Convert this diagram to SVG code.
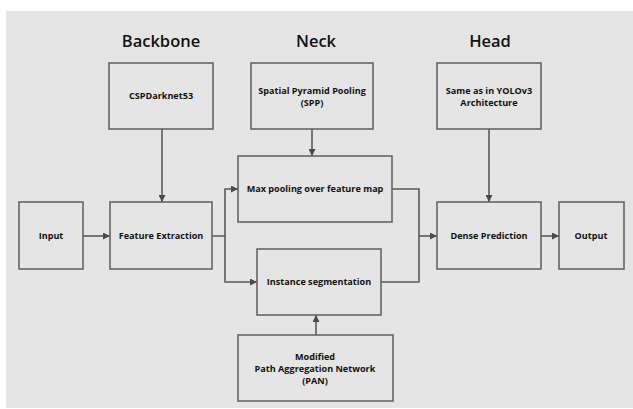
<svg xmlns="http://www.w3.org/2000/svg" width="633" height="409" viewBox="0 0 633 409">
<defs>
<style>
.bg{fill:#e5e5e5}
.box{fill:#e5e5e5;stroke:#666;stroke-width:1.6}
.lbl{font-family:"Open Sans","Noto Sans",sans-serif;font-weight:700;font-size:9.1px;fill:#111;text-anchor:middle}
.ttl{font-family:"Open Sans","Noto Sans",sans-serif;font-weight:600;font-size:16.5px;fill:#111;text-anchor:middle}
.con{fill:none;stroke:#5a5a5a;stroke-width:1.6}
</style>
<marker id="ah" viewBox="0 0 10 10" refX="10" refY="5" markerWidth="7" markerHeight="7" markerUnits="userSpaceOnUse" orient="auto">
<path d="M0,0 L10,5 L0,10 z" fill="#4a4a4a"/>
</marker>
</defs>
<rect x="0" y="0" width="633" height="409" fill="#ffffff"/>
<rect class="bg" x="6" y="11" width="627" height="397"/>
<g id="titles">
<text class="ttl" x="161" y="47">Backbone</text>
<text class="ttl" x="316" y="47">Neck</text>
<text class="ttl" x="490" y="47">Head</text>
</g>
<g id="connectors">
<path class="con" d="M162,129 V202" marker-end="url(#ah)"/>
<path class="con" d="M312,129 V156" marker-end="url(#ah)"/>
<path class="con" d="M489,129 V202" marker-end="url(#ah)"/>
<path class="con" d="M83,236 H110" marker-end="url(#ah)"/>
<path class="con" d="M212,236 H225 V189 H238" marker-end="url(#ah)"/>
<path class="con" d="M225,236 V282 H257" marker-end="url(#ah)"/>
<path class="con" d="M392,189 H419 V282 H381"/>
<path class="con" d="M419,236 H437" marker-end="url(#ah)"/>
<path class="con" d="M541,236 H559" marker-end="url(#ah)"/>
<path class="con" d="M316,335 V315" marker-end="url(#ah)"/>
</g>
<g id="csp">
<rect class="box" x="109" y="63" width="104" height="66"/>
<text class="lbl" x="161" y="99">CSPDarknet53</text>
</g>
<g id="spp">
<rect class="box" x="251" y="63" width="122" height="66"/>
<text class="lbl" x="312" y="94">Spatial Pyramid Pooling</text>
<text class="lbl" x="312" y="106">(SPP)</text>
</g>
<g id="yolo">
<rect class="box" x="437" y="63" width="104" height="66"/>
<text class="lbl" x="489" y="94">Same as in YOLOv3</text>
<text class="lbl" x="489" y="106">Architecture</text>
</g>
<g id="maxpool">
<rect class="box" x="238" y="156" width="154" height="66"/>
<text class="lbl" x="315" y="192">Max pooling over feature map</text>
</g>
<g id="input">
<rect class="box" x="19" y="202" width="64" height="67"/>
<text class="lbl" x="51" y="239">Input</text>
</g>
<g id="feature">
<rect class="box" x="110" y="202" width="102" height="67"/>
<text class="lbl" x="161" y="239">Feature Extraction</text>
</g>
<g id="dense">
<rect class="box" x="437" y="202" width="104" height="67"/>
<text class="lbl" x="489" y="239">Dense Prediction</text>
</g>
<g id="output">
<rect class="box" x="559" y="202" width="65" height="67"/>
<text class="lbl" x="591" y="239">Output</text>
</g>
<g id="instance">
<rect class="box" x="257" y="249" width="124" height="66"/>
<text class="lbl" x="319" y="285">Instance segmentation</text>
</g>
<g id="pan">
<rect class="box" x="238" y="335" width="155" height="66"/>
<text class="lbl" x="315" y="360">Modified</text>
<text class="lbl" x="315" y="372">Path Aggregation Network</text>
<text class="lbl" x="315" y="384">(PAN)</text>
</g>
</svg>
